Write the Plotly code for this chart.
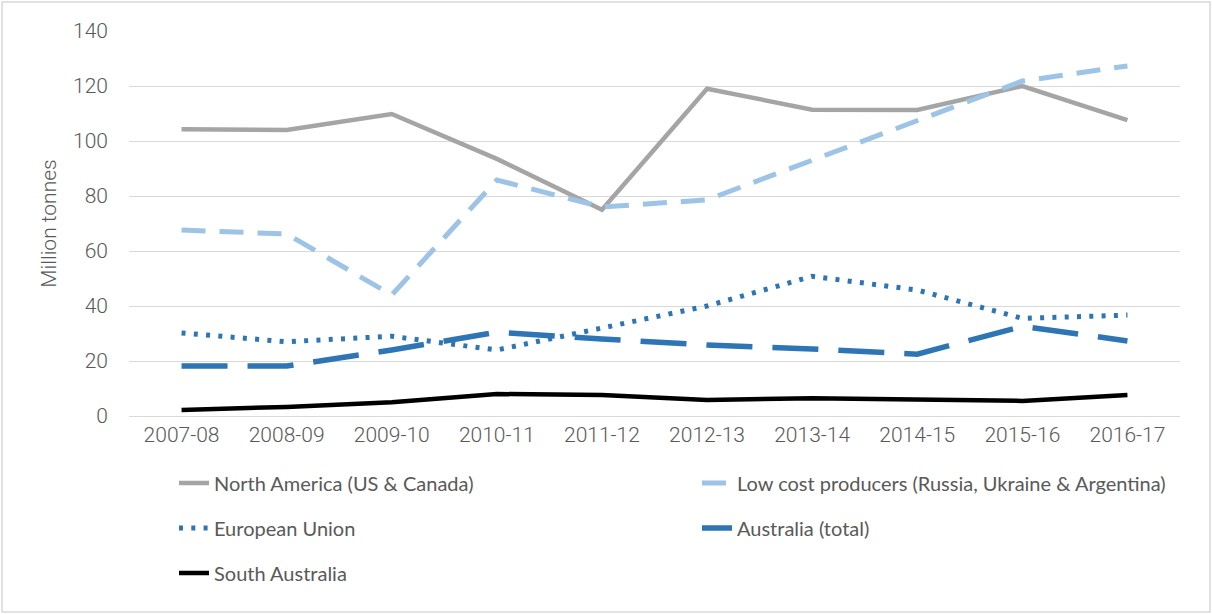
import plotly.graph_objects as go

# Harvest years
seasons = ["2007-08", "2008-09", "2009-10", "2010-11", "2011-12",
           "2012-13", "2013-14", "2014-15", "2015-16", "2016-17"]

# Wheat production, million tonnes
north_america = [104.3, 104.0, 109.8, 93.5, 75.0, 119.0, 111.4, 111.3, 120.0, 107.6]
low_cost = [67.6, 66.2, 44.0, 85.8, 76.0, 78.6, 93.0, 107.3, 121.8, 127.3]
european_union = [30.2, 27.0, 29.0, 24.0, 32.0, 40.0, 50.8, 45.8, 35.5, 36.7]
australia_total = [18.2, 18.2, 24.0, 30.5, 28.0, 25.8, 24.4, 22.5, 32.6, 27.3]
south_australia = [2.2, 3.3, 5.0, 8.0, 7.6, 5.8, 6.5, 6.2, 5.5, 7.6]

y_ticks = [0, 20, 40, 60, 80, 100, 120, 140]

W, H = 1212, 614
ML, MR, MT, MB = 129, 32, 31, 198
PW, PH = W - ML - MR, H - MT - MB


def px_x(p):
    return (p - ML) / PW


def px_y(p):
    return (H - MB - p) / PH


fig = go.Figure()

# name, values, colour, dash, width, legend id, legend box position (px)
series = [
    ("North America (US & Canada)", north_america, "#a5a5a5", None, 4.5, "legend", (174, 483)),
    ("Low cost producers (Russia, Ukraine & Argentina)", low_cost, "#9dc3e6", "24px,14px", 5, "legend2", (697, 483)),
    ("European Union", european_union, "#2e75b6", "4px,8.3px", 5, "legend3", (174, 528)),
    ("Australia (total)", australia_total, "#2e75b6", "46px,20px", 5.5, "legend4", (697, 528)),
    ("South Australia", south_australia, "#000000", None, 4.5, "legend5", (174, 573)),
]

legend_common = dict(
    orientation="h", xanchor="left", yanchor="middle",
    font=dict(family="Lato", size=20, color="#595959"),
    bgcolor="rgba(0,0,0,0)", itemwidth=30,
)

legends = {}
for name, vals, color, dash, width, leg, (lx, ly) in series:
    line = dict(color=color, width=width)
    if dash:
        line["dash"] = dash
    fig.add_trace(go.Scatter(
        x=seasons, y=vals, mode="lines", name=name, line=line, legend=leg,
    ))
    legends[leg] = dict(x=px_x(lx), y=px_y(ly), **legend_common)

tick_font = dict(family="Roboto", size=21, color="#595959", weight=300)

fig.update_layout(
    width=W, height=H,
    margin=dict(l=ML, r=MR, t=MT, b=MB),
    paper_bgcolor="white", plot_bgcolor="white",
    showlegend=True,
    **legends,
    xaxis=dict(
        type="category", showgrid=False, showline=False, zeroline=False,
        ticks="", tickfont=tick_font, ticklabelstandoff=4,
        range=[-0.5, len(seasons) - 0.5],
    ),
    yaxis=dict(
        range=[0, 140], tickvals=y_ticks, ticks="",
        showgrid=True, gridcolor="#d9d9d9", gridwidth=1,
        zeroline=True, zerolinecolor="#d9d9d9", zerolinewidth=1,
        showline=False,
        tickfont=tick_font, ticklabelstandoff=20,
        title=dict(text="Million tonnes", standoff=10,
                   font=dict(family="Roboto", size=21, color="#595959", weight=300)),
    ),
    shapes=[dict(
        type="rect", xref="paper", yref="paper",
        x0=px_x(2), x1=px_x(1210), y0=px_y(612), y1=px_y(2),
        line=dict(color="#d9d9d9", width=1.5), layer="below",
    )],
)

fig.write_html("out.html")
